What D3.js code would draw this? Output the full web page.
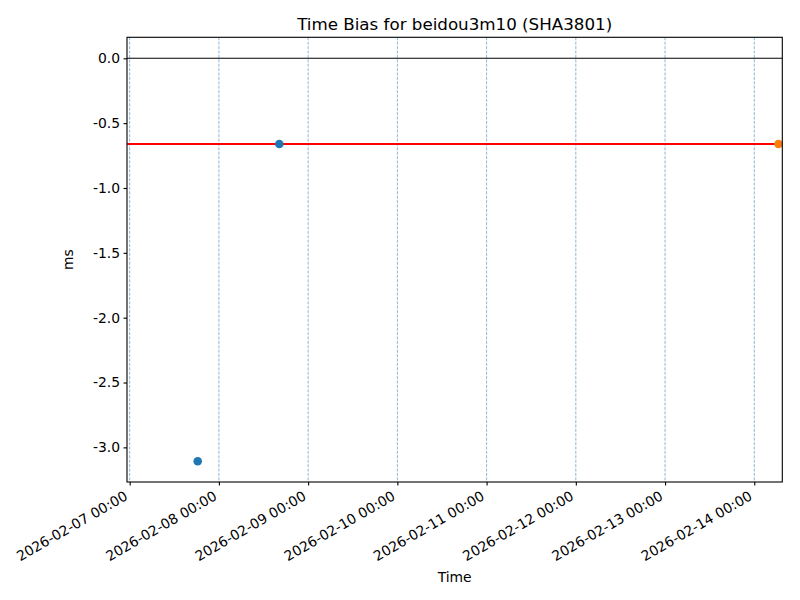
<!DOCTYPE html>
<html><head><meta charset="utf-8">
<script src="https://cdn.jsdelivr.net/npm/d3@7"></script>
<style>body{margin:0;background:#fff}svg{display:block}text{font-family:"DejaVu Sans",sans-serif;fill:#000}</style>
</head><body><svg id="c" width="800" height="600"></svg>
<script>
const title = "Time Bias for beidou3m10 (SHA3801)";
const xLabel = "Time";
const yLabel = "ms";
const blueTimes = ["2026-02-07T18:18:00Z", "2026-02-08T16:15:00Z"];
const blueValues = [-3.107, -0.661];
const orangeTimes = ["2026-02-14T06:30:00Z"];
const orangeValues = [-0.661];
const meanValue = -0.661;
const zeroValue = 0;
const dayLines = ["2026-02-07","2026-02-08","2026-02-09","2026-02-10","2026-02-11","2026-02-12","2026-02-13","2026-02-14"];
const xDomain = ["2026-02-06T23:17:00Z", "2026-02-14T07:32:00Z"];
const yDomain = [-3.267, 0.162];
const yTicks = [0.0, -0.5, -1.0, -1.5, -2.0, -2.5, -3.0];

const svg = d3.select("#c");
const L = 127, R = 782.3, T = 37.3, B = 482;
const parse = s => new Date(s.length === 10 ? s + "T00:00:00Z" : s);
const x = d3.scaleUtc().domain(xDomain.map(parse)).range([L, R]);
const y = d3.scaleLinear().domain(yDomain).range([B, T]);
const fmt = d3.utcFormat("%Y-%m-%d %H:%M");

const g = svg.append("g");
// clip
svg.append("defs").append("clipPath").attr("id","clip").append("rect")
  .attr("x", L).attr("y", T).attr("width", R-L).attr("height", B-T);
const plot = g.append("g").attr("clip-path","url(#clip)");

// vertical dashed day lines
plot.selectAll("line.day").data(dayLines).enter().append("line")
  .attr("x1", d => x(parse(d))).attr("x2", d => x(parse(d)))
  .attr("y1", T).attr("y2", B)
  .attr("stroke", "#1f77b4").attr("stroke-opacity", 0.75)
  .attr("stroke-width", 0.7).attr("stroke-dasharray", "3,1.4");

// zero line
plot.append("line").attr("x1", L).attr("x2", R)
  .attr("y1", y(zeroValue)).attr("y2", y(zeroValue))
  .attr("stroke", "#000").attr("stroke-width", 1.1);

// mean line
plot.append("line").attr("x1", L).attr("x2", R)
  .attr("y1", y(meanValue)).attr("y2", y(meanValue))
  .attr("stroke", "#ff0000").attr("stroke-width", 2.1);

// points
plot.selectAll("circle.b").data(blueTimes.map((t,i)=>[parse(t), blueValues[i]])).enter()
  .append("circle").attr("cx", d=>x(d[0])).attr("cy", d=>y(d[1])).attr("r", 4.3).attr("fill", "#1f77b4");
plot.selectAll("circle.o").data(orangeTimes.map((t,i)=>[parse(t), orangeValues[i]])).enter()
  .append("circle").attr("cx", d=>x(d[0])).attr("cy", d=>y(d[1])).attr("r", 4.3).attr("fill", "#ff7f0e");

// axes
const xAxis = d3.axisBottom(x).tickValues(dayLines.map(parse)).tickFormat(fmt).tickSize(3.5).tickPadding(3.5);
const xg = g.append("g").attr("transform", `translate(0,${B})`).call(xAxis);
xg.select(".domain").remove();
xg.selectAll(".tick line").attr("stroke", "#000").attr("stroke-width", 1.1);
xg.selectAll(".tick text")
  .attr("font-size", "13.9px").attr("font-family", "DejaVu Sans")
  .attr("text-anchor", "end").attr("dy", null).attr("y", null)
  .attr("transform", "translate(-1.6,16.9) rotate(-30)");

const yAxis = d3.axisLeft(y).tickValues(yTicks).tickFormat(d3.format(".1f")).tickSize(3.5).tickPadding(3.5);
const yg = g.append("g").attr("transform", `translate(${L},0)`).call(yAxis);
yg.select(".domain").remove();
yg.selectAll(".tick line").attr("stroke", "#000").attr("stroke-width", 1.1);
yg.selectAll(".tick text").attr("font-size", "13.9px").attr("font-family", "DejaVu Sans")
  .text(d => d3.format(".1f")(d).replace("\u2212", "-"));

// spines
g.append("rect").attr("x", L).attr("y", T).attr("width", R-L).attr("height", B-T)
  .attr("fill", "none").attr("stroke", "#000").attr("stroke-width", 1.1);

// texts
svg.append("text").attr("x", (L+R)/2).attr("y", 29.5).attr("text-anchor", "middle")
  .attr("font-size", "16.7px").text(title);
svg.append("text").attr("x", (L+R)/2).attr("y", 582).attr("text-anchor", "middle")
  .attr("font-size", "13.9px").text(xLabel);
svg.append("text").attr("transform", `translate(73,${(T+B)/2}) rotate(-90)`).attr("text-anchor", "middle")
  .attr("font-size", "13.9px").text(yLabel);
</script></body></html>
